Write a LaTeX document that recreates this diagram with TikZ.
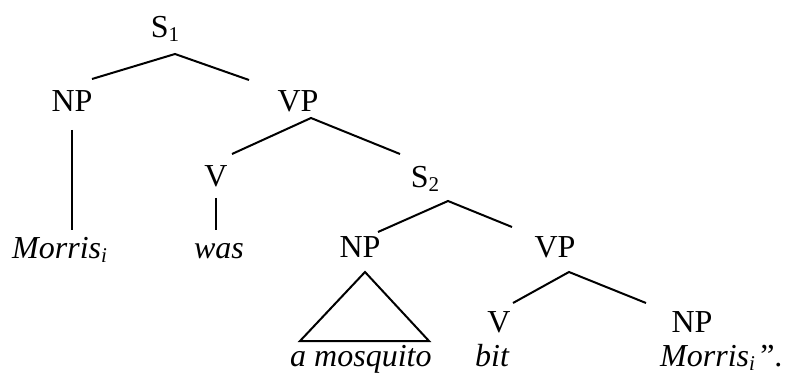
\documentclass[tikz,border=0pt]{standalone}
\usepackage{fontspec}
\setmainfont{Liberation Serif}
\newcommand\lowsub[1]{\raisebox{-4pt}{\fontsize{21}{24}\selectfont #1}}
\begin{document}
\begin{tikzpicture}[x=1pt,y=-1pt,
  lbl/.style={anchor=base,inner sep=0pt,font=\fontsize{32}{38}\selectfont},
  lblw/.style={anchor=base west,inner sep=0pt,font=\fontsize{32}{38}\selectfont},
  branch/.style={line width=2pt,line cap=butt}]
\useasboundingbox (0,0) rectangle (785,374);
% labels
\node[lbl] (S1) at (165,38) {S\lowsub{1}};
\node[lbl] (NPa) at (72,112) {NP};
\node[lbl] (VPa) at (298,112) {VP};
\node[lbl] (Va) at (216,187) {V};
\node[lbl] (S2) at (425,188) {S\lowsub{2}};
\node[lblw] (Morris1) at (12,259) {\textit{Morris\lowsub{i}}};
\node[lbl] (was) at (219,259) {\textit{was}};
\node[lbl] (NPb) at (360,258) {NP};
\node[lbl] (VPb) at (555,258) {VP};
\node[lbl] (Vb) at (499,333) {V};
\node[lbl] (NPc) at (692,333) {NP};
\node[lblw] (mosq) at (290,366) {\textit{a mosquito}};
\node[lblw] (bit) at (475,366) {\textit{bit}};
\node[lblw] (Morris2) at (660,366) {\textit{Morris\lowsub{i}}\,”.};
% branch points
\coordinate (s1top) at (175,54);
\coordinate (s1l) at (92,79);
\coordinate (s1r) at (249,80);
\coordinate (npatop) at (72,130);
\coordinate (npabot) at (72,230);
\coordinate (vpatop) at (311,118);
\coordinate (vpal) at (232,154);
\coordinate (vpar) at (400,154);
\coordinate (vatop) at (216,198);
\coordinate (vabot) at (216,230);
\coordinate (s2top) at (448,201);
\coordinate (s2l) at (378,232);
\coordinate (s2r) at (512,227);
\coordinate (tri) at (365,272);
\coordinate (tril) at (300,341);
\coordinate (trir) at (429,341);
\coordinate (vpbtop) at (569,272);
\coordinate (vpbl) at (513,303);
\coordinate (vpbr) at (646,303);
% branches
\draw[branch] (s1l) -- (s1top) -- (s1r);
\draw[branch] (npatop) -- (npabot);
\draw[branch] (vpal) -- (vpatop) -- (vpar);
\draw[branch] (vatop) -- (vabot);
\draw[branch] (s2l) -- (s2top) -- (s2r);
\draw[branch,line join=miter] (tri) -- (tril) -- (trir) -- cycle;
\draw[branch] (vpbl) -- (vpbtop) -- (vpbr);
\end{tikzpicture}
\end{document}
